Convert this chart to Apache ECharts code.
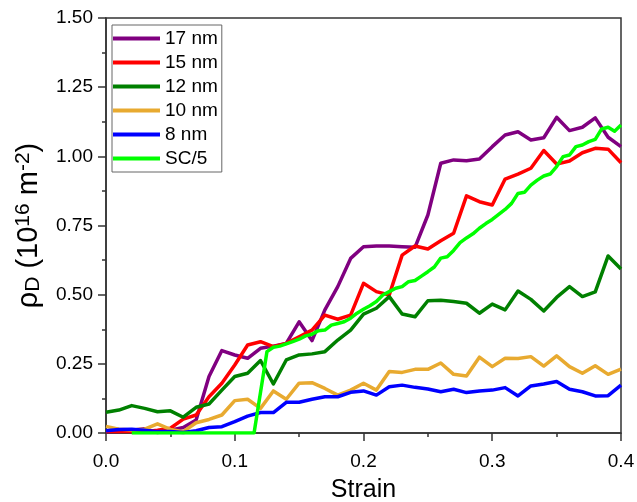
<!DOCTYPE html>
<html>
<head>
<meta charset="utf-8">
<script src="https://cdn.jsdelivr.net/npm/echarts@6/dist/echarts.min.js"></script>
<style>
html,body{margin:0;padding:0;background:#fff;}
#chart{width:637px;height:502px;}
</style>
</head>
<body>
<div id="chart"></div>
<script>
// Strain values for the 0.01-step series
const strain = [0.00,0.01,0.02,0.03,0.04,0.05,0.06,0.07,0.08,0.09,0.10,0.11,0.12,0.13,0.14,0.15,0.16,0.17,0.18,0.19,0.20,
  0.21,0.22,0.23,0.24,0.25,0.26,0.27,0.28,0.29,0.30,0.31,0.32,0.33,0.34,0.35,0.36,0.37,0.38,0.39,0.40];

const nm17 = [0.005,0.005,0.010,0.015,0.002,0.010,0.020,0.047,0.204,0.298,0.282,0.270,0.306,0.314,0.324,0.402,0.334,0.445,0.529,0.631,0.673,
  0.676,0.676,0.673,0.671,0.788,0.975,0.987,0.984,0.990,1.035,1.077,1.089,1.059,1.067,1.141,1.093,1.105,1.139,1.069,1.035];

const nm15 = [0.005,0.005,0.005,0.005,0.010,0.017,0.050,0.065,0.131,0.180,0.246,0.318,0.330,0.312,0.324,0.348,0.372,0.426,0.411,0.426,0.541,
  0.511,0.499,0.643,0.676,0.665,0.695,0.722,0.857,0.836,0.824,0.918,0.936,0.957,1.021,0.972,0.983,1.013,1.029,1.026,0.977];

const nm12 = [0.075,0.083,0.099,0.089,0.077,0.080,0.057,0.093,0.105,0.155,0.204,0.216,0.262,0.177,0.264,0.282,0.286,0.294,0.336,0.372,0.430,
  0.451,0.493,0.430,0.420,0.478,0.480,0.475,0.469,0.433,0.466,0.445,0.513,0.483,0.441,0.490,0.529,0.493,0.510,0.640,0.593];

const nm10 = [0.024,0.014,0.011,0.014,0.033,0.013,0.005,0.037,0.049,0.065,0.117,0.122,0.089,0.152,0.122,0.180,0.182,0.161,0.137,0.155,0.180,
  0.155,0.222,0.219,0.230,0.230,0.253,0.212,0.206,0.274,0.240,0.270,0.269,0.276,0.242,0.279,0.240,0.216,0.243,0.212,0.231];

const nm8 = [0.008,0.013,0.014,0.010,0.005,0.005,0.002,0.008,0.020,0.023,0.041,0.061,0.074,0.074,0.111,0.111,0.122,0.131,0.131,0.147,0.152,
  0.137,0.167,0.173,0.165,0.159,0.149,0.158,0.146,0.152,0.155,0.164,0.134,0.170,0.177,0.186,0.158,0.149,0.134,0.135,0.173];

// SC/5 series (finer strain step)
const scStrain = [0.020,0.025,0.030,0.035,0.040,0.045,0.050,0.055,0.060,0.065,0.070,0.075,0.080,0.085,0.090,0.095,0.100,0.105,0.110,0.115,
  0.125,0.130,0.135,0.140,0.145,0.150,0.155,0.160,0.165,0.170,0.175,0.180,0.185,0.190,0.195,0.200,0.205,0.210,0.215,0.220,
  0.225,0.230,0.235,0.240,0.245,0.250,0.255,0.260,0.265,0.270,0.275,0.280,0.285,0.290,0.295,0.300,0.305,0.310,0.315,0.320,
  0.325,0.330,0.335,0.340,0.345,0.350,0.355,0.360,0.365,0.370,0.375,0.380,0.385,0.390,0.395,0.400];
const sc5 = [0,0,0,0,0,0,0,0,0,0,0,0,0,0,0,0,0,0,0,0,
  0.294,0.310,0.314,0.322,0.330,0.339,0.351,0.357,0.370,0.372,0.390,0.396,0.402,0.415,0.433,0.447,0.460,0.475,0.499,0.511,
  0.523,0.529,0.547,0.551,0.567,0.583,0.600,0.632,0.637,0.660,0.688,0.705,0.720,0.740,0.757,0.772,0.790,0.808,0.830,0.866,
  0.870,0.896,0.914,0.929,0.936,0.963,0.999,1.005,1.035,1.041,1.053,1.061,1.099,1.105,1.091,1.113];

const seriesNames = ['17 nm','15 nm','12 nm','10 nm','8 nm','SC/5'];
const seriesColors = ['#800080','#ff0000','#008000','#e8aa30','#0000ff','#00ff00'];
const xTicks = [0.0,0.1,0.2,0.3,0.4];
const yTicks = [0.00,0.25,0.50,0.75,1.00,1.25,1.50];

const FONT = '"Liberation Sans", Arial, sans-serif';
const pair = (xs, ys) => xs.map((x, i) => [x, ys[i]]);
const allData = [pair(strain, nm17), pair(strain, nm15), pair(strain, nm12), pair(strain, nm10), pair(strain, nm8), pair(scStrain, sc5)];

const chart = echarts.init(document.getElementById('chart'), null, {renderer: 'canvas'});
chart.setOption({
  animation: false,
  backgroundColor: '#fff',
  grid: {left: 106, right: 16, top: 18, bottom: 69, containLabel: false, outerBoundsMode: 'none',
    show: true, borderColor: '#333', borderWidth: 1.5, backgroundColor: 'transparent'},
  legend: {
    data: seriesNames,
    orient: 'vertical',
    left: 112, top: 25,
    padding: [4, 4, 4, 1],
    icon: 'rect',
    itemWidth: 47, itemHeight: 4, itemGap: 5,
    borderColor: '#666', borderWidth: 1, backgroundColor: '#fff',
    textStyle: {fontFamily: FONT, fontSize: 19, color: '#000', lineHeight: 19}
  },
  xAxis: {
    type: 'value', min: xTicks[0], max: xTicks[xTicks.length - 1], interval: 0.1,
    name: 'Strain', nameLocation: 'middle', nameGap: 45,
    nameTextStyle: {fontFamily: FONT, fontSize: 25, color: '#000'},
    axisLine: {show: true, onZero: false, lineStyle: {color: '#333', width: 1.5}},
    axisTick: {show: true, inside: false, length: 8, lineStyle: {color: '#333', width: 1.5}},
    minorTick: {show: true, splitNumber: 2, length: 4, lineStyle: {color: '#333', width: 1.5}},
    splitLine: {show: false},
    axisLabel: {fontFamily: FONT, fontSize: 19, color: '#000', margin: 19, formatter: v => v.toFixed(1)}
  },
  yAxis: {
    type: 'value', min: yTicks[0], max: yTicks[yTicks.length - 1], interval: 0.25,
    name: '{a|ρ}{sub|D}{a| (10}{sup|16}{a| m}{sup|-2}{a|)}',
    nameLocation: 'middle', nameGap: 62, nameRotate: 90,
    nameTextStyle: {
      fontFamily: FONT, fontSize: 29, color: '#000',
      rich: {
        a: {fontFamily: FONT, fontSize: 29, color: '#000', lineHeight: 31},
        sub: {fontFamily: FONT, fontSize: 21, color: '#000', verticalAlign: 'bottom', lineHeight: 31, padding: [9, 0, 0, 0]},
        sup: {fontFamily: FONT, fontSize: 21, color: '#000', verticalAlign: 'top', lineHeight: 31, padding: [0, 0, 11, 0]}
      }
    },
    axisLine: {show: true, onZero: false, lineStyle: {color: '#333', width: 1.5}},
    axisTick: {show: true, inside: false, length: 8, lineStyle: {color: '#333', width: 1.5}},
    minorTick: {show: true, splitNumber: 2, length: 4, lineStyle: {color: '#333', width: 1.5}},
    splitLine: {show: false},
    axisLabel: {fontFamily: FONT, fontSize: 19, color: '#000', margin: 13, formatter: v => v.toFixed(2)}
  },
  series: seriesNames.map((n, i) => ({
    name: n, type: 'line', data: allData[i],
    showSymbol: false, symbol: 'none',
    color: seriesColors[i],
    itemStyle: {color: seriesColors[i]},
    lineStyle: {color: seriesColors[i], width: 3.5, join: 'round'},
    clip: true, z: 2 + i
  }))
});
</script>
</body>
</html>
